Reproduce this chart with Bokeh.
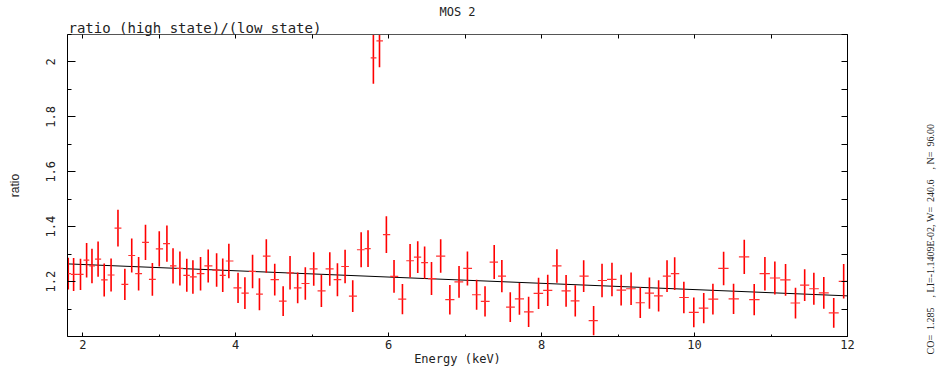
import numpy as np
from bokeh.plotting import figure
from bokeh.layouts import row
from bokeh.models import (LinearAxis, FixedTicker, ColumnDataSource,
                          CustomJSTickFormatter, Range1d, Title)
from bokeh.embed import file_html
from bokeh.resources import INLINE

# ---------------- data ----------------
energy = [1.81, 1.88, 1.97, 2.05, 2.12, 2.20, 2.28, 2.37, 2.46, 2.55,
          2.64, 2.73, 2.82, 2.91, 3.00, 3.10, 3.18, 3.27, 3.36, 3.44,
          3.54, 3.64, 3.75, 3.83, 3.91, 4.03, 4.12, 4.22, 4.31, 4.40,
          4.51, 4.62, 4.71, 4.81, 4.91, 5.02, 5.12, 5.23, 5.33, 5.43,
          5.53, 5.64, 5.73, 5.80, 5.88, 5.97, 6.07, 6.18, 6.28, 6.38,
          6.47, 6.56, 6.68, 6.80, 6.92, 7.03, 7.15, 7.26, 7.38, 7.48,
          7.59, 7.71, 7.83, 7.96, 8.08, 8.20, 8.32, 8.44, 8.55, 8.68,
          8.79, 8.92, 9.04, 9.17, 9.29, 9.41, 9.53, 9.64, 9.74, 9.86,
          9.99, 10.12, 10.24, 10.38, 10.51, 10.65, 10.78, 10.92, 11.05, 11.19,
          11.32, 11.44, 11.56, 11.69, 11.82, 11.95]

ratio = [1.229, 1.226, 1.226, 1.278, 1.257, 1.282, 1.206, 1.224, 1.395, 1.190,
         1.295, 1.229, 1.343, 1.208, 1.319, 1.338, 1.257, 1.248, 1.223, 1.217,
         1.229, 1.257, 1.242, 1.223, 1.275, 1.177, 1.158, 1.237, 1.154, 1.293,
         1.207, 1.129, 1.232, 1.177, 1.193, 1.246, 1.166, 1.246, 1.207, 1.255,
         1.147, 1.316, 1.320, 2.015, 2.077, 1.371, 1.219, 1.136, 1.276, 1.289,
         1.269, 1.211, 1.293, 1.134, 1.199, 1.248, 1.152, 1.128, 1.271, 1.220,
         1.107, 1.137, 1.090, 1.157, 1.168, 1.257, 1.166, 1.130, 1.220, 1.058,
         1.204, 1.208, 1.169, 1.174, 1.123, 1.158, 1.148, 1.220, 1.229, 1.142,
         1.088, 1.103, 1.136, 1.248, 1.137, 1.290, 1.134, 1.229, 1.213, 1.206,
         1.122, 1.187, 1.174, 1.159, 1.086, 1.201]

ratio_err = [0.058, 0.060, 0.057, 0.063, 0.063, 0.064, 0.060, 0.060, 0.067, 0.057,
             0.062, 0.061, 0.064, 0.060, 0.064, 0.066, 0.064, 0.062, 0.060, 0.061,
             0.061, 0.060, 0.061, 0.061, 0.063, 0.055, 0.058, 0.061, 0.058, 0.061,
             0.058, 0.054, 0.061, 0.056, 0.059, 0.061, 0.059, 0.061, 0.060, 0.061,
             0.058, 0.064, 0.067, 0.094, 0.096, 0.067, 0.060, 0.055, 0.061, 0.058,
             0.059, 0.060, 0.061, 0.054, 0.058, 0.062, 0.055, 0.055, 0.062, 0.059,
             0.054, 0.058, 0.055, 0.057, 0.057, 0.061, 0.058, 0.057, 0.058, 0.053,
             0.061, 0.061, 0.056, 0.059, 0.056, 0.057, 0.057, 0.058, 0.060, 0.057,
             0.054, 0.055, 0.056, 0.061, 0.055, 0.062, 0.057, 0.061, 0.060, 0.058,
             0.056, 0.058, 0.058, 0.058, 0.054, 0.063]

# linear model (CO + LI*E) across the plotted band
model_energy = [1.8, 12.0]
model_ratio = [1.2645, 1.148]

x_ticks = [2, 4, 6, 8, 10, 12]
x_minor_ticks = [2, 3, 4, 5, 6, 7, 8, 9, 10, 11, 12]
y_ticks = [1.2, 1.4, 1.6, 1.8, 2.0]
y_minor_ticks = [1.0, 1.1, 1.2, 1.3, 1.4, 1.5, 1.6, 1.7, 1.8, 1.9, 2.0, 2.1]

title_text = "MOS 2"
subtitle_text = "ratio (high state)/(low state)"
x_label = "Energy (keV)"
y_label = "ratio"
fit_text = "CO=  1.285    , LI=-1.1409E-02, W=  240.6    , N=  96.00"

# ---------------- derived quantities ----------------
e = np.array(energy)
r = np.array(ratio)
er = np.array(ratio_err)
mids = (e[1:] + e[:-1]) / 2.0
lo_edges = np.concatenate([[e[0] - (e[1] - e[0]) / 2.0], mids])
hi_edges = np.concatenate([mids, [e[-1] + (e[-1] - e[-2]) / 2.0]])

src = ColumnDataSource(dict(e=e, r=r, lo=r - er, hi=r + er,
                            xl=lo_edges, xh=hi_edges))

NBSP = "\u00a0"
FONT = "DejaVu Sans Mono"
TXT = "#222222"
H = 368
TOP, BOTTOM = 34, 29

# ---------------- main figure ----------------
p = figure(width=900, height=H, title=None,
           x_range=Range1d(1.8, 12.0), y_range=Range1d(1.0, 2.1),
           output_backend="svg", toolbar_location=None,
           min_border_left=67, min_border_right=53,
           min_border_top=TOP, min_border_bottom=BOTTOM,
           background_fill_color="white", border_fill_color="white")
p.outline_line_color = None
p.xgrid.visible = False
p.ygrid.visible = False

# bottom axis
xa = p.xaxis[0]
xa.ticker = FixedTicker(ticks=x_ticks, minor_ticks=x_minor_ticks)
xa.major_tick_in, xa.major_tick_out = 4, 0
xa.minor_tick_in, xa.minor_tick_out = 2, 0
xa.axis_line_color = "black"
xa.major_label_text_font = FONT
xa.major_label_text_font_size = "12px"
xa.major_label_text_color = TXT
xa.major_label_standoff = 3
xa.axis_label = x_label
xa.axis_label_text_font = FONT
xa.axis_label_text_font_size = "12px"
xa.axis_label_text_font_style = "normal"
xa.axis_label_text_color = TXT
xa.axis_label_standoff = 0

# left axis
ya = p.yaxis[0]
ya.ticker = FixedTicker(ticks=y_ticks, minor_ticks=y_minor_ticks)
ya.major_tick_in, ya.major_tick_out = 8, 0
ya.minor_tick_in, ya.minor_tick_out = 4, 0
ya.axis_line_color = "black"
ya.formatter = CustomJSTickFormatter(
    code="return (Math.round(tick*10)/10).toString();")
ya.major_label_orientation = "vertical"
ya.major_label_text_font = FONT
ya.major_label_text_font_size = "12px"
ya.major_label_text_color = TXT
ya.major_label_standoff = 12
ya.axis_label = y_label
ya.axis_label_text_font = "Liberation Sans"
ya.axis_label_text_font_size = "12px"
ya.axis_label_text_font_style = "normal"
ya.axis_label_text_color = TXT
ya.axis_label_standoff = 22

# top axis: ticks only
top_ax = LinearAxis(ticker=FixedTicker(ticks=[], minor_ticks=x_minor_ticks))
top_ax.minor_tick_in, top_ax.minor_tick_out = 4, 0
top_ax.major_tick_in, top_ax.major_tick_out = 0, 0
top_ax.major_label_standoff = 0
top_ax.axis_line_color = "#555555"
p.add_layout(top_ax, "above")

# right axis: ticks only
right_ax = LinearAxis(ticker=FixedTicker(ticks=[], minor_ticks=y_minor_ticks))
right_ax.minor_tick_in, right_ax.minor_tick_out = 6, 0
right_ax.major_tick_in, right_ax.major_tick_out = 0, 0
right_ax.major_label_standoff = 0
right_ax.axis_line_color = "black"
p.add_layout(right_ax, "right")

# titles (first added sits closest to the frame)
p.add_layout(Title(text=subtitle_text, align="left", offset=1, standoff=-2,
                   text_font=FONT, text_font_size="14px",
                   text_font_style="normal", text_color=TXT), "above")
p.add_layout(Title(text=title_text, align="center", offset=5, standoff=-1,
                   text_font=FONT, text_font_size="12px",
                   text_font_style="normal", text_color=TXT), "above")

# model line
p.line(model_energy, model_ratio, line_color="black", line_width=1)

# error crosses
p.segment(x0="e", y0="lo", x1="e", y1="hi", source=src,
          line_color="#ff0000", line_width=1.6)
p.segment(x0="xl", y0="r", x1="xh", y1="r", source=src,
          line_color="#ff3030", line_width=1.2)

# ---------------- side strip carrying the fit parameters ----------------
# its frame is aligned with the main frame by the row layout; the label is
# centred on that frame, trailing no-break spaces lower the visible text
SIDE_W = 41
p2 = figure(width=SIDE_W, height=H, x_range=Range1d(0, 1),
            y_range=Range1d(0, 1), output_backend="svg",
            toolbar_location=None, x_axis_location=None,
            y_axis_location="left",
            min_border_left=35, min_border_right=0,
            min_border_top=TOP, min_border_bottom=BOTTOM,
            background_fill_color="white", border_fill_color="white")
p2.outline_line_color = None
p2.xgrid.visible = False
p2.ygrid.visible = False
fa = p2.yaxis[0]
fa.ticker = FixedTicker(ticks=[], minor_ticks=[])
fa.axis_line_color = None
fa.major_tick_line_color = None
fa.minor_tick_line_color = None
fa.major_label_standoff = 0
fa.axis_label = fit_text.replace(" ", NBSP) + NBSP * 43
fa.axis_label_standoff = 0
fa.axis_label_text_font = "Liberation Sans Narrow"
fa.axis_label_text_font_size = "10px"
fa.axis_label_text_font_style = "normal"
fa.axis_label_text_color = TXT

layout = row(p, p2, spacing=0)
open("out.html", "w").write(file_html(layout, INLINE))
